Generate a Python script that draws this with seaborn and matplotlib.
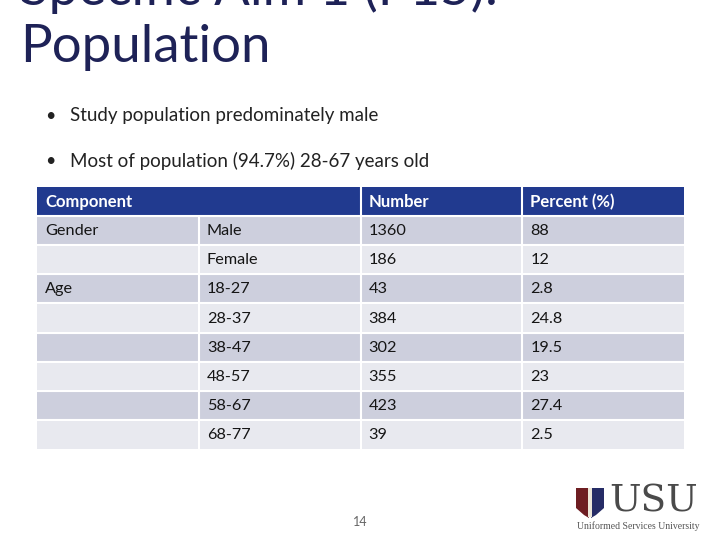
import numpy as np
import pandas as pd
import matplotlib
matplotlib.use("Agg")
import matplotlib.pyplot as plt
from matplotlib.colors import ListedColormap
from matplotlib.patches import Rectangle, Polygon
import seaborn as sns

# ---- data ----
headers = ["Component", "", "Number", "Percent (%)"]
components = ["Gender", "", "Age", "", "", "", "", ""]
subgroups = ["Male", "Female", "18-27", "28-37", "38-47", "48-57", "58-67", "68-77"]
numbers = ["1360", "186", "43", "384", "302", "355", "423", "39"]
percents = ["88", "12", "2.8", "24.8", "19.5", "23", "27.4", "2.5"]
bullets = ["Study population predominately male",
           "Most of population (94.7%) 28-67 years old"]
title_lines = ["Specific Aim 1 (P15):", "Population"]
page_number = "14"

sns.set_theme(style="white")
plt.rcParams['font.family'] = ['Lato', 'DejaVu Sans']

W, H = 720, 540
fig = plt.figure(figsize=(7.2, 5.4), dpi=100)
fig.patch.set_facecolor("white")

def fx(px):
    return px / W

def fy(py):
    return 1 - py / H

title_color = "#1E2257"
header_color = "#213A8F"
dark_row = "#CDCFDD"
light_row = "#E8E9EF"

# ---- title ----
fig.text(fx(20), fy(5), title_lines[0], fontsize=38, color=title_color, va="baseline", ha="left")
fig.text(fx(20), fy(62), title_lines[1], fontsize=38, color=title_color, va="baseline", ha="left")

# ---- bullets ----
for yb, txt in zip([116, 161], bullets):
    fig.text(fx(45), fy(yb), "\u2022", fontsize=13, color="#222222", va="center", ha="left")
    fig.text(fx(70), fy(yb), txt, fontsize=13.5, color="#222222", va="center", ha="left")

# ---- table ----
nrows = len(subgroups) + 1
shade = np.zeros((nrows, 4))
for i in range(1, nrows):
    shade[i, :] = 1 if i % 2 == 1 else 2
df = pd.DataFrame(shade)

ax = fig.add_axes([fx(37), fy(449), fx(684) - fx(37), (449 - 187) / H])
sns.heatmap(df, ax=ax, cmap=ListedColormap([header_color, dark_row, light_row]),
            vmin=-0.5, vmax=2.5, cbar=False, linewidths=0,
            xticklabels=False, yticklabels=False)
lw = 1.5
ax.hlines(np.arange(1, nrows), 0, 4, colors="white", linewidth=lw, zorder=4)
ax.vlines([1], 1, nrows, colors="white", linewidth=lw, zorder=4)
ax.vlines([2, 3], 0, nrows, colors="white", linewidth=lw, zorder=4)
ax.set_xlabel("")
ax.set_ylabel("")

pad = 0.05
for j, h in enumerate(headers):
    if h:
        ax.text(j + pad, 0.52, h, fontsize=12, fontweight="bold", color="white",
                va="center", ha="left", zorder=6)
rows = list(zip(components, subgroups, numbers, percents))
for i, row in enumerate(rows):
    for j, val in enumerate(row):
        if val:
            ax.text(j + pad, i + 1 + 0.52, val, fontsize=11.7, color="#151515",
                    va="center", ha="left", zorder=6)

# ---- page number ----
fig.text(fx(360), fy(522), page_number, fontsize=9, color="#666666", ha="center", va="center")

# ---- logo ----
lax = fig.add_axes([fx(570), fy(535), fx(705) - fx(570), 50 / H])
lax.set_xlim(570, 705)
lax.set_ylim(535, 485)
lax.axis("off")
lax.add_patch(Polygon([(576, 488), (589, 488), (589, 518), (584, 515), (576, 508)],
                      closed=True, facecolor="#6E1E22", edgecolor="none"))
lax.add_patch(Polygon([(591, 488), (604, 488), (604, 508), (596, 515), (591, 518)],
                      closed=True, facecolor="#262C66", edgecolor="none"))
lax.add_patch(Rectangle((588, 488), 4, 29, facecolor="#EDE6D8", edgecolor="none"))
lax.text(654, 502, "USU", fontsize=27, family="DejaVu Serif", color="#4A4A4A",
         ha="center", va="center")
lax.text(638, 526, "Uniformed Services University", fontsize=7, family="Liberation Serif",
         color="#555555", ha="center", va="center")

fig.savefig("out.png", dpi=100)
